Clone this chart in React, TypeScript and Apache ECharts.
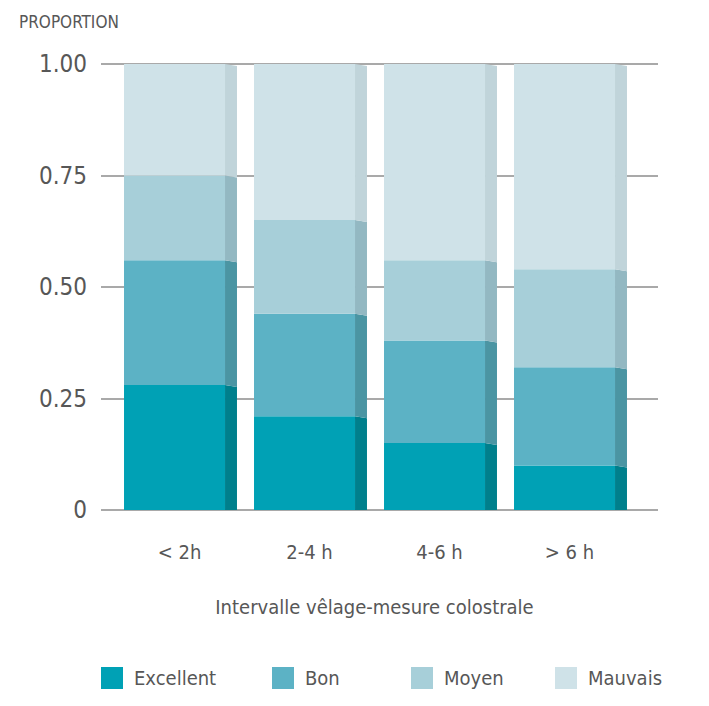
import React, { useEffect, useRef } from "react";
import * as echarts from "echarts";

const categories = ["< 2h", "2-4 h", "4-6 h", "> 6 h"];
const seriesNames = ["Excellent", "Bon", "Moyen", "Mauvais"];
const excellent = [0.28, 0.21, 0.15, 0.1];
const bon = [0.28, 0.23, 0.23, 0.22];
const moyen = [0.19, 0.21, 0.18, 0.22];
const mauvais = [0.25, 0.35, 0.44, 0.46];
const yTicks = [0, 0.25, 0.5, 0.75, 1];

const frontColors = ["#00A1B5", "#5CB2C5", "#A7CFD9", "#CFE2E8"];
const sideColors = ["#007F8C", "#4B95A3", "#93B8C2", "#C0D4DA"];

const FONT = "'DejaVu Sans Condensed', 'DejaVu Sans', sans-serif";
const TEXT = "#575757";

export default function App() {
  const ref = useRef<HTMLDivElement>(null);
  useEffect(() => {
    if (!ref.current) return;
    const chart = echarts.init(ref.current, undefined, { renderer: "svg" });
    const values = [excellent, bon, moyen, mauvais];
    const series: any[] = values.map((vals, si) => {
      const data = vals.map((v, ci) => {
        let start = 0;
        for (let k = 0; k < si; k++) start += values[k][ci];
        return [ci, start, start + v];
      });
      return {
        type: "custom",
        name: seriesNames[si],
        xAxisIndex: 1,
        yAxisIndex: 1,
        itemStyle: { color: frontColors[si] },
        data,
        renderItem: (params: any, api: any) => {
          const ci = api.value(0);
          const s = api.value(1);
          const e = api.value(2);
          const center = api.coord([ci, 0])[0];
          const band = api.size([1, 0])[0];
          const frontW = band * 0.777;
          const sideW = band * 0.092;
          const x0 = center - (frontW + sideW) / 2 + 1;
          const x1 = x0 + frontW;
          const x2 = x1 + sideW;
          const yTop = api.coord([ci, e])[1];
          const yBot = api.coord([ci, s])[1];
          const slant = 2;
          const botOff = s === 0 ? 0 : slant;
          return {
            type: "group",
            children: [
              {
                type: "rect",
                shape: { x: x0, y: yTop, width: frontW, height: yBot - yTop },
                style: { fill: frontColors[si] },
              },
              {
                type: "polygon",
                shape: {
                  points: [
                    [x1, yTop],
                    [x2, yTop + slant],
                    [x2, yBot + botOff],
                    [x1, yBot],
                  ],
                },
                style: { fill: sideColors[si] },
              },
            ],
          };
        },
      };
    });

    const legendLefts = [101, 272, 411, 555];
    const legends = seriesNames.map((n, i) => ({
      data: [n],
      left: legendLefts[i],
      top: 667,
      padding: 0,
      orient: "horizontal",
      itemWidth: 22,
      itemHeight: 22,
      icon: "rect",
      selectedMode: false,
      textStyle: {
        fontFamily: FONT,
        fontSize: 20,
        color: TEXT,
        padding: [0, 0, 0, 6],
      },
    }));

    chart.setOption({
      animation: false,
      title: {
        text: "PROPORTION",
        left: 14,
        top: 8,
        textStyle: { fontFamily: FONT, fontSize: 17, fontWeight: "normal", color: TEXT },
      },
      legend: legends,
      grid: [
        { left: 101, right: 51, top: 64, bottom: 196 },
        { left: 114.5, width: 520, top: 64, bottom: 196 },
      ],
      xAxis: [
        { type: "value", gridIndex: 0, show: false, min: 0, max: 1 },
        {
          type: "category",
          gridIndex: 1,
          data: categories,
          axisLine: { show: false },
          axisTick: { show: false },
          axisLabel: { fontFamily: FONT, fontSize: 20, color: TEXT, margin: 32 },
          name: "Intervalle vêlage-mesure colostrale",
          nameLocation: "middle",
          nameGap: 87,
          nameTextStyle: { fontFamily: FONT, fontSize: 20, color: TEXT },
        },
      ],
      yAxis: [
        {
          type: "value",
          gridIndex: 0,
          min: yTicks[0],
          max: yTicks[yTicks.length - 1],
          interval: 0.25,
          axisLine: { show: false },
          axisTick: { show: false },
          axisLabel: {
            fontFamily: FONT,
            fontSize: 24,
            color: TEXT,
            margin: 14,
            formatter: (v: number) => (v === 0 ? "0" : v.toFixed(2)),
          },
          splitLine: { lineStyle: { color: "#8C8C8C", width: 1.5 } },
        },
        { type: "value", gridIndex: 1, min: 0, max: 1, show: false },
      ],
      series,
    });
    return () => chart.dispose();
  }, []);
  return (
    <div
      ref={ref}
      style={{ position: "absolute", left: 0, top: 0, width: 709, height: 706, background: "#fff" }}
    />
  );
}
